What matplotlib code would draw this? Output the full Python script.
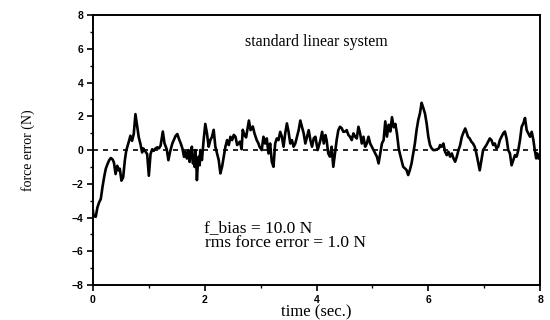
import matplotlib
matplotlib.use('Agg')
import matplotlib.pyplot as plt
from matplotlib.ticker import MultipleLocator

# force error trace (time in sec, error in N)
time = [0.00, 0.01, 0.05, 0.08, 0.11, 0.14, 0.17, 0.20, 0.23, 0.26, 0.29, 0.32, 0.35, 0.375,
        0.405, 0.435, 0.46, 0.48, 0.51, 0.54, 0.57, 0.595, 0.63, 0.65, 0.67, 0.70, 0.73, 0.76,
        0.79, 0.82, 0.85, 0.88, 0.90, 0.93, 0.97, 1.00, 1.03, 1.06, 1.09, 1.12, 1.15, 1.18,
        1.21, 1.25, 1.28, 1.32, 1.35, 1.38, 1.42, 1.48, 1.51, 1.54, 1.57, 1.60, 1.63, 1.655,
        1.68, 1.71, 1.73, 1.75, 1.77, 1.79, 1.80, 1.82, 1.83, 1.85, 1.86, 1.88, 1.89, 1.91,
        1.92, 1.95, 1.98, 2.01, 2.04, 2.07, 2.10, 2.13, 2.16, 2.19, 2.22, 2.25, 2.28, 2.31,
        2.34, 2.37, 2.40, 2.43, 2.46, 2.49, 2.52, 2.55, 2.58, 2.63, 2.66, 2.68, 2.71, 2.74,
        2.79, 2.82, 2.86, 2.89, 2.93, 2.96, 2.98, 3.02, 3.05, 3.08, 3.11, 3.14, 3.17, 3.20,
        3.23, 3.26, 3.29, 3.32, 3.35, 3.38, 3.41, 3.44, 3.47, 3.50, 3.53, 3.56, 3.59, 3.62,
        3.65, 3.68, 3.71, 3.74, 3.77, 3.80, 3.83, 3.86, 3.89, 3.92, 3.95, 3.98, 4.00, 4.02,
        4.07, 4.10, 4.13, 4.16, 4.18, 4.21, 4.24, 4.27, 4.30, 4.33, 4.36, 4.39, 4.42, 4.45,
        4.48, 4.51, 4.54, 4.57, 4.60, 4.63, 4.66, 4.69, 4.72, 4.75, 4.78, 4.81, 4.84, 4.87,
        4.90, 4.93, 4.96, 4.99, 5.02, 5.05, 5.08, 5.11, 5.14, 5.17, 5.20, 5.23, 5.26, 5.29,
        5.32, 5.35, 5.38, 5.41, 5.44, 5.47, 5.49, 5.52, 5.55, 5.58, 5.61, 5.64, 5.67, 5.70,
        5.73, 5.76, 5.79, 5.82, 5.85, 5.88, 5.91, 5.94, 5.97, 6.00, 6.03, 6.06, 6.09, 6.12,
        6.16, 6.19, 6.21, 6.24, 6.27, 6.30, 6.33, 6.36, 6.39, 6.42, 6.45, 6.48, 6.51, 6.54,
        6.57, 6.60, 6.63, 6.66, 6.68, 6.71, 6.74, 6.77, 6.80, 6.83, 6.86, 6.89, 6.92, 6.95,
        6.98, 7.01, 7.04, 7.07, 7.10, 7.13, 7.16, 7.19, 7.22, 7.25, 7.28, 7.31, 7.34, 7.37,
        7.40, 7.43, 7.46, 7.49, 7.52, 7.55, 7.58, 7.61, 7.64, 7.67, 7.70, 7.73, 7.76, 7.79,
        7.82, 7.85, 7.88, 7.90, 7.93, 7.95, 7.97, 8.00]
force_err = [-3.6, -3.9, -3.95, -3.4, -3.1, -2.9, -2.2, -1.6, -1.1, -0.83, -0.6, -0.47, -0.55, -0.73,
             -1.42, -0.93, -1.2, -1.1, -1.81, -1.62, -0.63, -0.04, 0.36, 0.6, 0.85, 0.55, 0.95, 2.13,
             1.44, 0.75, 0.36, -0.14, 0.1, -0.04, -0.24, -1.52, -0.24, 0.05, -0.04, 0.1, 0.16, 0.1,
             0.26, 1.1, 0.4, 0.05, -0.6, -0.1, 0.39, 0.85, 0.95, 0.65, 0.4, 0.1, -0.4, -0.1,
             -0.5, 0.0, -0.7, -0.2, 0.2, -0.8, -0.4, -1.0, 0.0, -0.9, -1.78, -0.6, -0.39, -0.9,
             0.0, -0.59, 0.59, 1.55, 0.99, 0.2, 0.59, 0.79, 1.2, 0.2, -0.2, -0.59, -1.38, -0.99,
             -0.39, 0.2, 0.59, 0.3, 0.79, 0.59, 0.9, 0.79, 0.3, 0.5, 0.05, 1.2, 0.9, 0.75,
             1.75, 1.18, 1.4, 0.99, 0.59, 0.4, 0.2, 0.0, 0.79, 0.39, 0.69, -0.2, 0.39, -0.69,
             -0.99, 0.39, 0.69, 0.59, 1.08, 0.79, 0.2, 0.99, 1.58, 1.08, 0.39, 0.59, 0.2, 0.39,
             0.79, 1.18, 1.75, 1.38, 0.99, 0.39, 0.79, 1.18, 0.59, 0.2, 0.7, 0.79, 0.39, 0.0,
             0.59, 1.08, 0.39, 0.89, 0.59, -0.2, -0.39, 0.2, -0.99, -0.2, 0.59, 1.18, 1.38, 1.3,
             1.08, 1.1, 1.18, 0.9, 0.79, 0.59, 0.99, 0.8, 0.69, 1.38, 0.99, 0.39, 0.79, 0.2,
             0.39, 0.79, 0.39, 0.2, 0.0, -0.2, -0.39, -0.79, -0.2, 0.39, 0.59, 1.7, 0.8, 1.5,
             1.1, 1.95, 1.35, 1.55, 0.95, 0.1, -0.2, -0.59, -0.99, -1.08, -1.18, -1.48, -1.18, -0.79,
             -0.2, 0.39, 1.18, 1.78, 2.17, 2.8, 2.5, 2.17, 1.58, 0.79, 0.3, 0.1, 0.0, 0.0,
             0.05, 0.1, 0.3, 0.2, 0.39, -0.1, -0.3, -0.1, -0.39, -0.2, -0.49, -0.69, -0.39, 0.0,
             0.3, 0.79, 1.05, 1.28, 1.1, 0.79, 0.69, 0.5, 0.39, 0.2, -0.2, -0.69, -1.2, -0.59,
             0.0, 0.15, 0.3, 0.5, 0.69, 0.59, 0.3, 0.39, 0.1, 0.2, 0.59, 0.79, 0.99, 1.1,
             0.69, 0.0, -0.2, -0.9, -0.59, -0.3, -0.39, 0.0, 0.59, 1.38, 1.58, 1.9, 1.18, 0.99,
             0.79, 1.08, 0.59, 0.1, -0.49, -0.2, -0.5, -0.3]

x_ticks = [0, 2, 4, 6, 8]
y_ticks = [-8, -6, -4, -2, 0, 2, 4, 6, 8]
title_text = 'standard linear system'
note_lines = ['f_bias = 10.0 N', 'rms force error = 1.0 N']

serif = 'Liberation Serif'
sans = 'Liberation Sans'

fig = plt.figure(figsize=(5.5, 3.2), dpi=100)
ax = fig.add_axes([0.169, 0.109, 0.813, 0.844])

# zero reference and the measured error
ax.axhline(0, color='black', linestyle=(0, (3, 3)), linewidth=1.2, zorder=2)
ax.plot(time, force_err, color='black', linewidth=1.9, zorder=3)

ax.set_xlim(0, 8)
ax.set_ylim(-8, 8)
ax.set_xticks(x_ticks)
ax.set_yticks(y_ticks)
ax.xaxis.set_minor_locator(MultipleLocator(1))
ax.yaxis.set_minor_locator(MultipleLocator(1))
ax.tick_params(axis='both', which='major', direction='out', length=4, width=1.2,
               labelsize=7.5, pad=3)
ax.tick_params(axis='both', which='minor', direction='out', length=2.5, width=1.0)
for lab in ax.get_xticklabels() + ax.get_yticklabels():
    lab.set_family(sans)
    lab.set_fontweight('bold')

for sp in ax.spines.values():
    sp.set_linewidth(1.4)

ax.set_xlabel('time (sec.)', family=serif, fontsize=12, labelpad=0)
ax.set_ylabel('force error (N)', family=serif, fontsize=10, labelpad=26)

ax.text(4.0, 6.4, title_text, family=serif, fontsize=11.5, ha='center', va='center')
ax.text(1.98, -4.6, note_lines[0], family=serif, fontsize=12.5, ha='left', va='center')
ax.text(2.0, -5.5, note_lines[1], family=serif, fontsize=12.5, ha='left', va='center')

fig.savefig('out.png', dpi=100)
